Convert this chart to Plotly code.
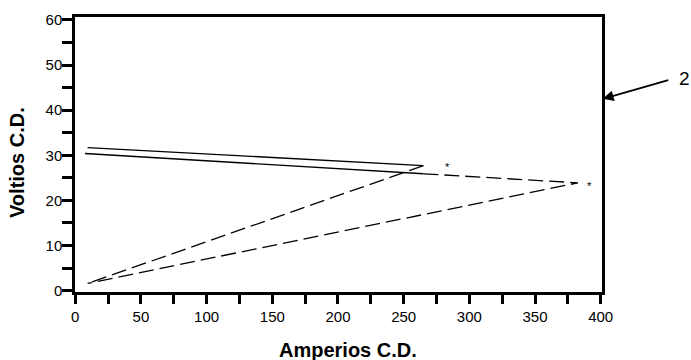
import plotly.graph_objects as go

# Data (Amperios C.D. vs Voltios C.D.)
upper_solid_x = [9.4, 265.0]
upper_solid_y = [31.7, 27.7]
upper_dash_x = [265.0, 9.4]
upper_dash_y = [27.7, 1.6]

lower_solid_x = [7.4, 265.0]
lower_solid_y = [30.4, 25.9]
lower_dash_x = [265.0, 382.7, 9.4]
lower_dash_y = [25.9, 23.9, 1.6]

star_x = [283.5, 391.3]
star_y = [28.1, 23.9]

x_title = "Amperios C.D."
y_title = "Voltios C.D."
callout_label = "2"

FONT = "Arial, 'Liberation Sans', sans-serif"
DASH = "15px,6px"

fig = go.Figure()
fig.add_trace(go.Scatter(x=upper_solid_x, y=upper_solid_y, mode="lines",
                         line=dict(color="black", width=1.4), showlegend=False))
fig.add_trace(go.Scatter(x=upper_dash_x, y=upper_dash_y, mode="lines",
                         line=dict(color="black", width=1.3, dash=DASH), showlegend=False))
fig.add_trace(go.Scatter(x=lower_solid_x, y=lower_solid_y, mode="lines",
                         line=dict(color="black", width=1.4), showlegend=False))
fig.add_trace(go.Scatter(x=lower_dash_x, y=lower_dash_y, mode="lines",
                         line=dict(color="black", width=1.3, dash=DASH), showlegend=False))

for sx, sy in zip(star_x, star_y):
    fig.add_annotation(x=sx, y=sy, text="*", showarrow=False, yshift=-3,
                       xanchor="center", yanchor="middle",
                       font=dict(family=FONT, size=11, color="black"))

# callout "2" with arrow
fig.add_annotation(xref="paper", yref="paper", x=1.0015, y=0.7026, text="",
                   showarrow=True, ax=67, ay=-19, arrowhead=2, arrowsize=1.2,
                   arrowwidth=1.8, arrowcolor="black")
fig.add_annotation(xref="paper", yref="paper", x=(684 - 75) / 527, y=(292 - 78) / 275,
                   text=callout_label, showarrow=False, xanchor="center", yanchor="middle",
                   font=dict(family=FONT, size=19, color="black"))

# axis titles
fig.add_annotation(xref="paper", yref="paper", x=(347.5 - 75) / 527, y=(292 - 350) / 275,
                   text="<b>" + x_title + "</b>", showarrow=False,
                   xanchor="center", yanchor="middle",
                   font=dict(family=FONT, size=20, color="black"))
fig.add_annotation(xref="paper", yref="paper", x=(17 - 75) / 527, y=(292 - 163) / 275,
                   text="<b>" + y_title + "</b>", showarrow=False, textangle=-90,
                   xanchor="center", yanchor="middle",
                   font=dict(family=FONT, size=20, color="black"))

axis_common = dict(showgrid=False, zeroline=False, showline=True, linecolor="black",
                   linewidth=2.5, mirror=True, ticks="outside", ticklen=9, tickwidth=3,
                   tickcolor="black", tickfont=dict(family=FONT, size=15, color="black"))

fig.update_xaxes(range=[-0.2, 401], tickmode="array",
                 tickvals=[0, 50, 100, 150, 200, 250, 300, 350, 400],
                 minor=dict(dtick=25, tick0=0, ticks="outside", ticklen=9, tickwidth=3,
                            tickcolor="black"),
                 **axis_common)
fig.update_yaxes(range=[-0.3, 60.65], tickmode="array",
                 tickvals=[0, 10, 20, 30, 40, 50, 60],
                 minor=dict(dtick=5, tick0=0, ticks="outside", ticklen=10, tickwidth=3,
                            tickcolor="black"),
                 **axis_common)
fig.update_yaxes(ticklen=10, ticklabelstandoff=-3)

fig.update_layout(width=691, height=360, margin=dict(l=75, r=89, t=17, b=68),
                  plot_bgcolor="white", paper_bgcolor="white",
                  font=dict(family=FONT, color="black"))

fig.write_html("out.html", config={"displayModeBar": False},
               post_script="document.body.style.margin='0';document.body.style.overflow='hidden';")
